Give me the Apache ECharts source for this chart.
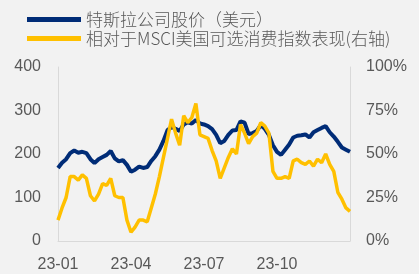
<!DOCTYPE html>
<html>
<head>
<meta charset="utf-8">
<script src="https://cdn.jsdelivr.net/npm/echarts@6/dist/echarts.min.js"></script>
<style>
  html, body { margin: 0; padding: 0; background: #f2f2f2; }
  #chart { width: 419px; height: 274px; }
</style>
</head>
<body>
<div id="chart"></div>
<script>
// 特斯拉股价（美元），约每5个自然日一个点，2023-01-01 起
const teslaPrice = [
  168, 180, 188, 202, 208, 203, 205, 202, 188, 179,
  188, 193, 198, 207, 190, 183, 186, 175, 159, 164,
  171, 168, 170, 184, 195, 210, 230, 255, 262, 258,
  253, 268, 273, 270, 278, 270, 268, 264, 257, 244,
  225, 230, 244, 254, 255, 275, 272, 246, 248, 253,
  266, 258, 244, 220, 205, 198, 210, 222, 238, 242,
  243, 245, 238, 250, 255, 260, 264, 250, 240, 228,
  215, 210, 205
]
// 相对于MSCI美国可选消费指数表现（%，右轴）
const relPerf = [
  12, 19, 25, 37, 37, 35, 38, 36, 26, 23,
  27, 33, 32, 36, 26, 25, 25, 12, 5, 8,
  12, 12, 11, 19, 27, 37, 48, 59, 70, 62,
  55, 72, 68, 71, 79, 61, 60, 59, 52, 46,
  36, 42, 48, 53, 50, 67, 62, 56, 60, 62,
  68, 66, 62, 40, 36, 36, 37, 36, 46, 47,
  45, 44, 46, 43, 47, 45, 50, 44, 40, 28,
  24, 19, 17
]
// x轴刻度
const tickIdx = [0, 18, 36, 54]
const tickLabels = ['23-01', '23-04', '23-07', '23-10']

const dates = []
const start = new Date(2023, 0, 1)
for (let i = 0; i < teslaPrice.length; i++) {
  const d = new Date(start.getTime() + i * 5 * 86400000)
  dates.push(d.getFullYear() + '-' + String(d.getMonth() + 1).padStart(2, '0') + '-' + String(d.getDate()).padStart(2, '0'))
}

const labelColor = '#595959'
const chart = echarts.init(document.getElementById('chart'))
chart.setOption({
  backgroundColor: '#f2f2f2',
  animation: false,
  legend: {
    orient: 'vertical',
    left: 22,
    top: 6,
    itemWidth: 54,
    itemHeight: 5,
    itemGap: 2,
    icon: 'rect',
    textStyle: { color: labelColor, fontSize: 17, fontWeight: 300, fontFamily: 'Noto Sans CJK SC' },
    data: ['特斯拉公司股价（美元）', '相对于MSCI美国可选消费指数表现(右轴)']
  },
  grid: { left: 58, right: 69, top: 67, bottom: 33 },
  xAxis: {
    type: 'category',
    data: dates,
    boundaryGap: false,
    axisLine: { lineStyle: { color: '#d9d9d9', width: 1 } },
    axisTick: { show: false },
    axisLabel: {
      color: labelColor,
      fontSize: 16,
      fontFamily: 'Liberation Sans',
      margin: 16,
      interval: (i) => tickIdx.includes(i),
      formatter: (v, i) => tickLabels[tickIdx.indexOf(i)] || ''
    }
  },
  yAxis: [
    {
      type: 'value',
      min: 0, max: 400, interval: 100,
      axisLine: { show: true, lineStyle: { color: '#d9d9d9' } },
      axisTick: { show: false },
      splitLine: { show: false },
      axisLabel: { color: labelColor, fontSize: 16, fontFamily: 'Liberation Sans', margin: 17 }
    },
    {
      type: 'value',
      min: 0, max: 100, interval: 25,
      axisLine: { show: true, lineStyle: { color: '#d9d9d9' } },
      axisTick: { show: false },
      splitLine: { show: false },
      axisLabel: { color: labelColor, fontSize: 16, fontFamily: 'Liberation Sans', margin: 16, formatter: '{value}%' }
    }
  ],
  series: [
    {
      name: '特斯拉公司股价（美元）',
      type: 'line',
      data: teslaPrice,
      showSymbol: false,
      color: '#002c77',
      lineStyle: { width: 4, color: '#002c77' }
    },
    {
      name: '相对于MSCI美国可选消费指数表现(右轴)',
      type: 'line',
      yAxisIndex: 1,
      data: relPerf,
      showSymbol: false,
      color: '#ffc000',
      lineStyle: { width: 3.5, color: '#ffc000' }
    }
  ]
})
</script>
</body>
</html>
